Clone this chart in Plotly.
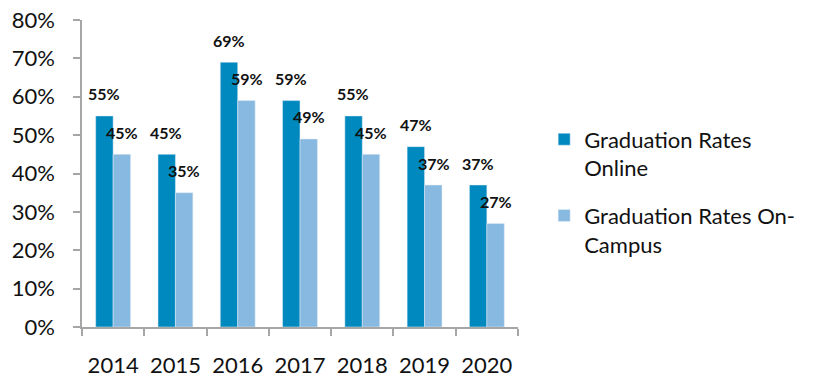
import plotly.graph_objects as go

years = ["2014", "2015", "2016", "2017", "2018", "2019", "2020"]
online = [55, 45, 69, 59, 55, 47, 37]
campus = [45, 35, 59, 49, 45, 37, 27]
series_names = ["Graduation Rates<br>Online", "Graduation Rates On-<br>Campus"]
colors = ["#0089BF", "#88B9E0"]
y_ticks = [0, 10, 20, 30, 40, 50, 60, 70, 80]

FONT = "Lato"

fig = go.Figure()
fig.add_trace(go.Bar(x=years, y=online, name=series_names[0], marker_color=colors[0], legendgroup="a"))
fig.add_trace(go.Bar(x=years, y=campus, name=series_names[1], marker_color=colors[1], legendgroup="b"))

annotations = []
for vals, shift in ((online, -9), (campus, 9)):
    for i, v in enumerate(vals):
        annotations.append(dict(x=i, y=v, xref="x", yref="y", text=f"{v}%", showarrow=False,
                                xshift=shift, yshift=22,
                                font=dict(family=FONT, size=16, color="#111111", weight="bold")))

fig.update_layout(
    width=823, height=377,
    margin=dict(l=82, r=305, t=20, b=50, autoexpand=False),
    paper_bgcolor="white", plot_bgcolor="white",
    barmode="group", bargap=0.44, bargroupgap=0,
    font=dict(family=FONT, size=22, color="#111111"),
    annotations=annotations,
    showlegend=True,
    legend=dict(x=1.06, xanchor="left", y=0.44, yanchor="middle", valign="top",
                font=dict(family=FONT, size=22, color="#111111"), tracegroupgap=16,
                bgcolor="rgba(0,0,0,0)"),
    xaxis=dict(type="category", categoryorder="array", categoryarray=years,
               range=[-0.5, len(years) - 0.5], showline=True, linecolor="#A6A6A6", linewidth=1.5,
               ticks="outside", tickson="boundaries", ticklen=7, tickcolor="#A6A6A6",
               tickwidth=1.5, showgrid=False, ticklabelstandoff=18, tickangle=0,
               tickfont=dict(family=FONT, size=22)),
    yaxis=dict(range=[0, 80], tickvals=y_ticks, ticktext=[f"{t}%" for t in y_ticks],
               showline=True, linecolor="#A6A6A6", linewidth=1.5, ticks="outside",
               ticklen=7, tickcolor="#A6A6A6", tickwidth=1.5, showgrid=False,
               zeroline=False, ticklabelstandoff=14, tickfont=dict(family=FONT, size=22)),
)

fig.write_html("out.html")
